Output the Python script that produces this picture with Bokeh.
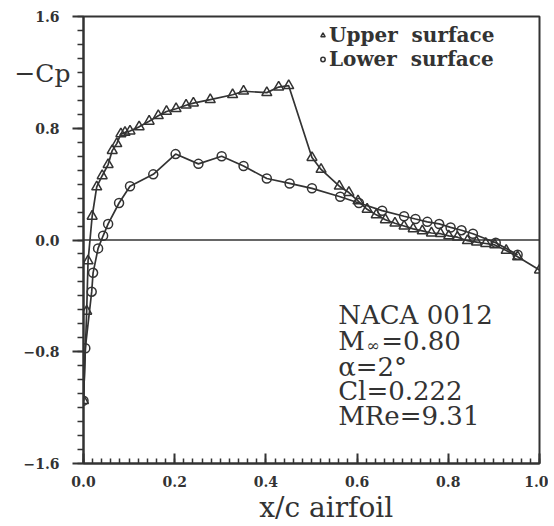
from bokeh.plotting import figure
from bokeh.models import FixedTicker, Span, Legend, LegendItem, Range1d, LinearAxis, Label
from bokeh.embed import file_html
from bokeh.resources import INLINE

# Upper surface (-Cp vs x/c)
upper_x = [0.0, 0.007, 0.010, 0.019, 0.029, 0.041, 0.054, 0.063, 0.073, 0.082,
           0.091, 0.102, 0.122, 0.144, 0.164, 0.182, 0.203, 0.225, 0.241, 0.278,
           0.327, 0.351, 0.402, 0.428, 0.450, 0.501, 0.521, 0.561, 0.582, 0.602,
           0.622, 0.642, 0.662, 0.683, 0.703, 0.723, 0.743, 0.763, 0.783, 0.801,
           0.820, 0.842, 0.862, 0.882, 0.902, 0.927, 0.952, 1.0]
upper_cp = [-1.15, -0.51, -0.15, 0.17, 0.38, 0.46, 0.54, 0.64, 0.69, 0.76,
            0.77, 0.78, 0.81, 0.85, 0.89, 0.92, 0.94, 0.965, 0.98, 1.005,
            1.04, 1.065, 1.055, 1.095, 1.105, 0.59, 0.505, 0.385, 0.34, 0.28,
            0.22, 0.18, 0.145, 0.12, 0.10, 0.08, 0.065, 0.05, 0.045, 0.03,
            0.02, -0.005, -0.015, -0.025, -0.035, -0.075, -0.12, -0.215]

# Lower surface
lower_x = [0.0, 0.004, 0.018, 0.021, 0.032, 0.043, 0.054, 0.078, 0.102, 0.153,
           0.202, 0.252, 0.303, 0.351, 0.402, 0.452, 0.501, 0.563, 0.604, 0.655,
           0.703, 0.728, 0.754, 0.780, 0.805, 0.829, 0.854, 0.904, 0.952]
lower_cp = [-1.15, -0.775, -0.37, -0.235, -0.06, 0.03, 0.115, 0.265, 0.385, 0.47,
            0.615, 0.545, 0.60, 0.53, 0.44, 0.405, 0.37, 0.31, 0.265, 0.21,
            0.17, 0.15, 0.13, 0.115, 0.09, 0.07, 0.045, -0.02, -0.105]

y_ticks = [-1.6, -0.8, 0.0, 0.8, 1.6]
y_tick_labels = ["\u22121.6", "\u22120.8", "0.0", "0.8", "1.6"]
x_ticks = [0.0, 0.2, 0.4, 0.6, 0.8, 1.0]
x_tick_labels = ["0.0", "0.2", "0.4", "0.6", "0.8", "1.0"]

INK = "#333333"
SERIF = "DejaVu Serif"

p = figure(width=548, height=526,
           min_border_left=83, min_border_right=9, min_border_top=16, min_border_bottom=62,
           x_range=Range1d(0, 1), y_range=Range1d(-1.6, 1.6),
           output_backend="svg", toolbar_location=None)
p.xgrid.visible = False
p.ygrid.visible = False
p.outline_line_color = INK
p.outline_line_width = 2
p.background_fill_color = "white"
p.border_fill_color = "white"

y_minor = [round(-1.6 + 0.1 * i, 2) for i in range(33)]
x_minor = [round(0.02 * i, 2) for i in range(51)]
p.yaxis.ticker = FixedTicker(ticks=y_ticks, minor_ticks=y_minor)
p.xaxis.ticker = FixedTicker(ticks=x_ticks, minor_ticks=x_minor)
p.yaxis.major_label_overrides = dict(zip(y_ticks, y_tick_labels))
p.xaxis.major_label_overrides = dict(zip(x_ticks, x_tick_labels))

for ax in (p.xaxis[0], p.yaxis[0]):
    ax.axis_line_color = INK
    ax.axis_line_width = 2
    ax.major_tick_line_color = INK
    ax.minor_tick_line_color = INK
    ax.major_tick_line_width = 2
    ax.minor_tick_line_width = 1.5
    ax.major_label_text_font = SERIF
    ax.major_label_text_font_style = "bold"
    ax.major_label_text_font_size = "14px"
    ax.major_label_text_color = INK

ya = p.yaxis[0]
ya.major_tick_out = 11
ya.major_tick_in = 0
ya.minor_tick_out = 6
ya.minor_tick_in = 0
ya.major_label_standoff = 13

xa = p.xaxis[0]
xa.major_tick_in = 10
xa.major_tick_out = 0
xa.minor_tick_in = 5
xa.minor_tick_out = 0
xa.major_label_standoff = 12

# axis titles placed via extra label-only axes (so they are not clipped)
cp_pos = [1.19]
xc_pos = [0.542]
cp_axis = LinearAxis(ticker=FixedTicker(ticks=cp_pos, minor_ticks=[]),
                     major_label_overrides={cp_pos[0]: "\u2212Cp"},
                     axis_line_alpha=0, major_tick_line_alpha=0, minor_tick_line_alpha=0,
                     major_tick_in=0, major_tick_out=0, minor_tick_in=0, minor_tick_out=0,
                     major_label_standoff=-50, major_label_text_font=SERIF,
                     major_label_text_font_size="25px", major_label_text_color=INK)
p.add_layout(cp_axis, "left")
xc_axis = LinearAxis(ticker=FixedTicker(ticks=xc_pos, minor_ticks=[]),
                     major_label_overrides={xc_pos[0]: "x/c  airfoil"},
                     axis_line_alpha=0, major_tick_line_alpha=0, minor_tick_line_alpha=0,
                     major_tick_in=0, major_tick_out=0, minor_tick_in=0, minor_tick_out=0,
                     major_label_standoff=1, major_label_text_font=SERIF,
                     major_label_text_font_size="28px", major_label_text_color=INK)
p.add_layout(xc_axis, "below")

p.add_layout(Span(location=0, dimension="width", line_color=INK, line_width=1.5))

p.line(upper_x, upper_cp, line_color=INK, line_width=1.7)
p.line(lower_x, lower_cp, line_color=INK, line_width=1.7)
r_up = p.scatter(upper_x, upper_cp, marker="triangle", size=10, line_color=INK,
                 line_width=1.5, fill_alpha=0)
r_lo = p.scatter(lower_x, lower_cp, marker="circle", size=9, line_color=INK,
                 line_width=1.5, fill_alpha=0)

legend = Legend(items=[LegendItem(label="Upper  surface", renderers=[r_up]),
                       LegendItem(label="Lower  surface", renderers=[r_lo])],
                location=(234, 392), padding=0, margin=0, spacing=0,
                glyph_width=11, glyph_height=20, label_height=20, label_standoff=1,
                label_text_font=SERIF, label_text_font_style="bold",
                label_text_font_size="20px", label_text_color=INK,
                border_line_alpha=0, background_fill_alpha=0)
p.add_layout(legend)

ann_x = 0.5585
p.add_layout(Label(x=ann_x, y=-0.536, text="NACA  0012", text_font=SERIF,
                   text_font_size="26px", text_color=INK, text_baseline="alphabetic"))
p.add_layout(Label(x=ann_x, y=-0.726, text="M", text_font=SERIF,
                   text_font_size="26px", text_color=INK, text_baseline="alphabetic"))
p.add_layout(Label(x=ann_x, y=-0.726, x_offset=28, y_offset=-4, text="\u221e", text_font=SERIF,
                   text_font_size="16px", text_color=INK, text_baseline="alphabetic"))
p.add_layout(Label(x=ann_x, y=-0.726, x_offset=43, text="=0.80", text_font=SERIF,
                   text_font_size="26px", text_color=INK, text_baseline="alphabetic"))
p.add_layout(Label(x=ann_x, y=-0.907, text="\u03b1=2\u00b0", text_font=SERIF,
                   text_font_size="26px", text_color=INK, text_baseline="alphabetic"))
p.add_layout(Label(x=ann_x, y=-1.084, text="Cl=0.222", text_font=SERIF,
                   text_font_size="26px", text_color=INK, text_baseline="alphabetic"))
p.add_layout(Label(x=ann_x, y=-1.262, text="MRe=9.31", text_font=SERIF,
                   text_font_size="26px", text_color=INK, text_baseline="alphabetic"))

open("out.html", "w").write(file_html(p, INLINE))
